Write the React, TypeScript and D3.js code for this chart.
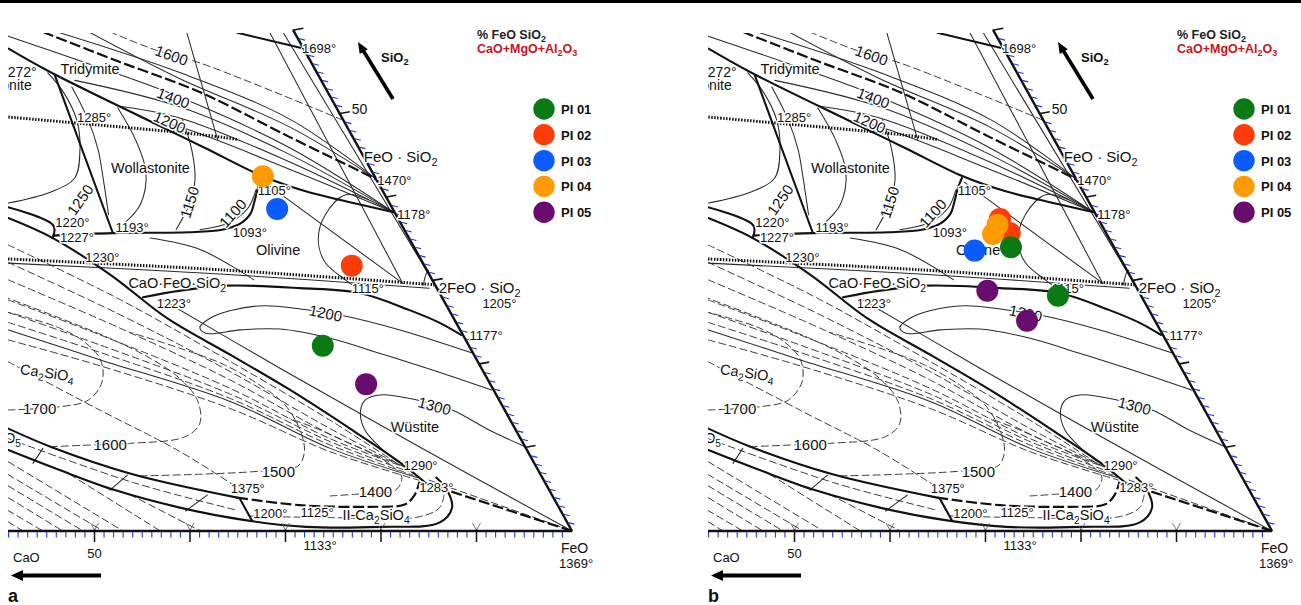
import React from 'react';
import * as d3 from 'd3';

type Comp = [number, number]; // [FeO wt%, SiO2 wt%]  (CaO = 100 - FeO - SiO2)

// ---------------- samples ----------------
const sampleNames = ['PI 01', 'PI 02', 'PI 03', 'PI 04', 'PI 05'];
const sampleColors = ['#0a7b14', '#fd3c07', '#0b5bff', '#fe9a03', '#6a0c6d'];
const panelASample = [0, 1, 2, 3, 4];
const panelAFeO = [62.5, 60.6, 49.3, 45.8, 69.4];
const panelASiO2 = [22.2, 31.8, 38.6, 42.5, 17.6];
const panelBSample = [1, 1, 3, 3, 0, 2, 4, 0, 4];
const panelBFeO = [52.3, 54.2, 52.4, 52.5, 55.2, 51.6, 55.4, 63.1, 61.4];
const panelBSiO2 = [37.4, 35.7, 36.7, 35.6, 34.0, 33.6, 28.8, 28.2, 25.2];

// ---------------- phase boundaries (thick solid) ----------------
const tridymiteBoundary: Comp[] = [[11.3, 57.8], [17.1, 55.0], [30.6, 49.1], [38.0, 45.9], [45.8, 42.5], [51.2, 40.7], [56.5, 39.4], [61.7, 38.2]];
const olivineWollBoundary: Comp[] = [[27.5, 35.4], [33.6, 35.7], [41.5, 35.8], [44.8, 36.1], [46.3, 36.8], [46.8, 38.0], [46.4, 39.7], [46.0, 41.1], [45.8, 42.3]];
const wollTridBoundary: Comp[] = [[17.8, 54.6], [33.5, 35.8]];
const topBoundary1698: Comp[] = [[34.3, 59.7], [41.8, 57.9]];
const cfsBoundary: Comp[] = [[40.7, 28.0], [44.2, 28.8], [48.8, 29.4], [56.6, 29.1], [63.2, 28.5], [69.3, 26.5], [73.2, 25.0], [76.3, 23.5]];
const wollLowerBoundary: Comp[] = [[21.0, 38.8], [26.9, 36.6], [27.6, 35.1]];
const ca2sio4Boundary: Comp[] = [[21.7, 37.5], [27.6, 35.1], [35.9, 30.7], [44.5, 25.5], [53.4, 21.1], [61.8, 16.9], [70.4, 12.3], [77.8, 8.2], [81.5, 5.9]];
const lowerBoundary1: Comp[] = [[34.6, 12.3], [40.2, 10.1], [50.5, 6.8], [62.9, 4.0]];
const lowerBoundary2: Comp[] = [[36.0, 9.7], [42.6, 7.3], [49.6, 4.9], [57.5, 2.8], [65.1, 1.3], [71.9, 0.5], [79.7, 0.5], [85.6, 1.0], [86.0, 2.8], [84.4, 4.9], [82.5, 6.4]];
const shortBoundary1375: Comp[] = [[63.3, 3.8], [65.9, 1.2]];
const solidBoundaries = [tridymiteBoundary, olivineWollBoundary, wollTridBoundary, topBoundary1698, cfsBoundary, wollLowerBoundary, ca2sio4Boundary, lowerBoundary1, lowerBoundary2, shortBoundary1375];

// ---------------- thick dashed boundaries ----------------
const liquidusDash1: Comp[] = [[13.9, 59.8], [23.8, 56.2], [34.0, 52.6], [46.2, 47.2], [56.6, 42.7], [57.9, 42.1]];
const liquidusDash2: Comp[] = [[62.9, 4.0], [69.9, 3.1], [77.4, 2.9], [80.9, 3.2], [81.3, 4.3], [81.0, 5.9]];
const liquidusDash3: Comp[] = [[81.5, 5.8], [100, 0]];
const dashedBoundaries = [liquidusDash1, liquidusDash2, liquidusDash3];

// ---------------- thin solid isotherms / lines ----------------
const thinSolid: Comp[][] = [
  [[15.7, 59.7], [30.8, 54.9], [45.2, 49.3], [57.8, 42.2]],
  [[18.9, 59.7], [31.1, 54.2], [45.6, 48.4], [57.8, 42.2]],
  [[10.5, 59.3], [22.1, 55.5], [32.2, 52.0], [46.9, 45.9], [61.7, 38.2]],
  [[20.2, 54.0], [32.9, 50.8], [47.3, 45.1], [61.7, 38.2]],
  [[26.5, 50.9], [33.5, 49.5], [47.8, 44.2], [61.7, 38.2]],
  [[30.6, 49.1], [34.1, 48.4], [48.3, 43.3], [61.7, 38.2]],
  [[42.5, 36.1], [45.2, 37.0], [46.2, 38.7], [45.9, 40.9]],
  [[20.8, 39.3], [24.5, 40.6], [26.2, 42.3], [25.0, 45.7], [22.8, 49.3], [19.5, 52.8], [16.9, 54.9]],
  [[20.3, 53.2], [24.0, 49.3], [26.9, 45.7], [29.3, 42.1], [32.0, 37.9]],
  [[26.4, 50.7], [30.2, 46.9], [33.3, 43.0], [34.7, 39.1], [34.1, 36.7]],
  [[33.9, 49.3], [36.7, 45.7], [38.9, 42.1], [39.8, 39.1], [40.0, 36.1]],
  [[29.0, 59.7], [38.8, 46.9]],
  [[37.7, 59.7], [67.0, 29.7]],
  [[39.1, 59.7], [70.4, 29.6]],
  [[46.3, 41.8], [67.0, 29.7]],
  [[58.3, 39.7], [55.6, 40.3], [54.7, 37.9], [55.5, 34.9], [57.6, 32.2], [60.8, 30.1], [62.5, 29.1]],
  [[69.5, 32.2], [68.9, 31.0], [69.3, 29.5]],
  [[24.4, 32.1], [47.3, 30.8], [70.1, 29.1]],
  [[37.8, 35.1], [43.8, 33.7], [51.2, 30.1]],
  [[78.7, 21.3], [69.6, 24.1], [62.8, 25.8], [57.9, 26.6], [53.9, 27.0], [50.6, 26.4], [49.0, 25.5], [48.5, 24.4], [49.5, 23.7], [52.9, 24.1], [57.0, 24.2], [62.8, 23.1], [68.9, 21.3], [75.1, 19.4], [82.9, 16.9]],
  [[89.9, 10.1], [85.1, 12.1], [80.0, 14.5], [75.7, 15.7], [71.5, 16.3], [70.3, 15.7], [70.5, 14.3], [72.1, 12.1], [74.8, 10.0], [77.5, 8.3]],
  [[42.5, 27.9], [59.4, 19.5], [73.4, 12.7], [85.7, 6.8], [100, 0]],
  [[28.6, 24.1], [40.1, 20.5], [56.3, 15.5], [69.6, 9.9], [80.5, 6.4]],
  [[39.5, 9.9], [39.4, 8.1]],
  [[50.0, 6.7], [49.1, 4.9]],
  [[59.6, 4.3], [58.3, 2.4]],
];

// ---------------- thin dashed isotherms ----------------
const thinDashed: Comp[][] = [
  [[20.9, 59.8], [26.9, 57.6], [32.2, 56.1], [50.8, 49.2]],
  [[23.3, 34.3], [38.5, 27.7], [53.8, 20.3], [67.8, 13.3], [77.9, 7.9]],
  [[24.4, 32.2], [39.4, 25.9], [54.4, 19.1], [68.3, 12.3], [78.2, 7.8]],
  [[25.5, 30.1], [40.2, 24.3], [54.9, 18.1], [68.7, 11.6], [78.5, 7.7]],
  [[26.7, 27.7], [38.5, 23.5], [55.4, 17.1], [68.9, 11.1], [78.7, 7.6]],
  [[27.5, 26.2], [39.1, 22.3], [55.8, 16.4], [69.2, 10.7], [79.3, 7.1]],
  [[28.1, 25.0], [39.6, 21.4], [56.0, 15.9], [69.4, 10.3], [79.9, 6.7]],
  [[29.2, 22.9], [40.4, 19.8], [56.6, 14.7], [69.8, 9.5], [80.8, 6.1]],
  [[30.5, 20.3], [43.1, 14.5], [54.1, 9.5], [62.3, 5.2]],
  [[33.5, 14.5], [38.8, 14.9], [41.3, 15.7], [41.6, 17.9], [40.1, 20.5], [37.4, 22.6], [33.9, 24.3], [30.1, 25.5], [27.5, 26.2]],
  [[40.2, 10.1], [44.2, 10.3], [48.3, 10.5], [53.7, 11.3], [54.4, 12.9], [52.7, 15.7], [49.5, 18.3], [45.2, 20.7], [39.7, 23.1], [33.3, 25.5], [26.6, 27.9]],
  [[51.4, 6.6], [57.5, 6.8], [63.9, 7.2], [67.3, 7.8], [67.1, 9.5], [65.3, 12.1], [62.2, 15.1], [58.3, 17.5], [53.4, 19.9], [47.7, 21.9], [41.5, 23.8]],
  [[72.5, 4.2], [75.0, 4.4], [79.0, 4.9], [78.9, 6.4], [77.6, 7.5], [74.7, 9.1], [71.3, 10.5], [67.4, 12.1], [63.5, 13.5]],
  [[65.4, 1.8], [73.9, 1.6], [83.1, 1.7], [84.7, 2.8], [84.4, 4.3]],
  [[35.2, 11.1], [51.1, 5.8], [63.6, 2.5]],
  [[81.9, 6.1], [100, 0]],
  [[36.7, 8.3], [53.0, 0]],
  [[37.4, 6.8], [50.9, 0]],
  [[38.2, 5.4], [48.8, 0]],
  [[38.9, 4.0], [46.7, 0]],
  [[39.6, 2.5], [44.6, 0]],
  [[40.4, 1.1], [42.5, 0]],
  [[43.9, 6.8], [56.9, 0]],
  [[51.4, 4.4], [61.1, 0]],
];

// ---------------- dotted conjugation lines ----------------
const dottedLines: Comp[][] = [
  [[15.5, 49.6], [36.7, 47.5], [41.0, 46.9]],
  [[24.2, 32.6], [47.1, 31.3], [70.5, 29.5]],
];

// ---------------- labels ----------------
const fieldLabels: [string, Comp][] = [
  ['Tridymite', [18.3, 54.8]], ['Wollastonite', [29.7, 42.9]], ['Olivine', [49.9, 33.1]],
  ['Wüstite', [74.9, 11.9]], ['CaO·FeO·SiO_2', [38.6, 29.1]], ['II-Ca_2SiO_4', [75.3, 1.3]],
];
const compoundLabels: [string, Comp][] = [['FeO · SiO_2', [55.5, 44.2]], ['2FeO · SiO_2', [71.4, 28.5]]];
const tempLabels: [string, Comp][] = [
  ['1698°', [42.3, 57.3]], ['1470°', [58.3, 41.5]], ['1178°', [62.5, 37.4]], ['1105°', [46.4, 40.3]],
  ['1093°', [46.4, 35.2]], ['1220°', [27.2, 36.4]], ['1227°', [28.6, 34.6]], ['1193°', [33.8, 35.8]],
  ['1230°', [32.5, 32.2]], ['1223°', [42.8, 26.7]], ['1285°', [23.0, 49.0]], ['1115°', [62.3, 28.5]],
  ['1205°', [76.9, 26.7]], ['1177°', [77.5, 22.9]], ['1375°', [61.9, 4.6]], ['1200°', [65.8, 1.6]],
  ['1125°', [70.7, 1.7]], ['1290°', [78.6, 7.3]], ['1283°', [81.6, 4.7]],
];
const edgeLabels: [string, Comp][] = [['1272°', [16.0, 54.4]], ['onite', [16.3, 52.8]], ['P_2O_5', [36.9, 10.5]]];
const isothermLabels: [string, Comp, number][] = [
  ['1600', [28.8, 57.0], 20], ['1400', [31.6, 51.9], 21], ['1200', [32.7, 49.0], 24], ['1250', [28.1, 39.7], -55],
  ['1150', [39.7, 39.4], -72], ['1100', [44.9, 38.1], -48], ['1200', [60.8, 26.1], 12], ['1300', [77.9, 15.0], 15],
  ['1700', [36.7, 14.7], 0], ['1600', [46.3, 10.4], 0], ['1500', [65.6, 7.1], 0], ['1400', [77.0, 4.7], 0],
];
const ca2sio4Label: [string, Comp] = ['Ca_2SiO_4', [32.5, 18.8]];
const axisTemp1133: [string, number] = ['1133°', 72.2];

// axis ticks
const minorTicks = d3.range(41, 100);
const majorTicks = [50, 60, 70, 80, 90];
const edgeMinor = d3.range(1, 60);
const edgeMajor = [10, 20, 30, 40, 50, 60];

// ---------------- scales ----------------
const W = 1301, H = 605;
const PLOT_LEFT = 8, PLOT_TOP = 33;
const feX = d3.scaleLinear().domain([0, 100]).range([-383, 572]);
const siX = d3.scaleLinear().domain([0, 100]).range([0, 490.6]);
const siY = d3.scaleLinear().domain([0, 100]).range([531, -303.5]);

const FONT = "'Liberation Sans', Arial, Helvetica, sans-serif";

function chem(s: string, sub = 3.5) {
  const parts = s.split(/_(\d)/);
  const out: React.ReactNode[] = [];
  let shifted = false;
  parts.forEach((p, i) => {
    if (i % 2 === 1) {
      out.push(<tspan key={i} dy={shifted ? 0 : sub} fontSize="0.72em">{p}</tspan>);
      shifted = true;
    } else if (p) {
      out.push(<tspan key={i} dy={shifted ? -sub : 0}>{p}</tspan>);
      shifted = false;
    }
  });
  return out;
}

const halo = { stroke: '#fff', strokeWidth: 3, paintOrder: 'stroke' as const, strokeLinejoin: 'round' as const };

function Panel({ dx, letter, sIdx, feo, sio2 }: { dx: number; letter: string; sIdx: number[]; feo: number[]; sio2: number[] }) {
  const P = (c: Comp): [number, number] => [feX(c[0]) + siX(c[1]) + dx, siY(c[1])];
  const gen = d3.line<Comp>().x(d => P(d)[0]).y(d => P(d)[1]).curve(d3.curveCatmullRom.alpha(0.5));
  const topS = siY.invert(PLOT_TOP);
  const vtx = P([100, 0]);
  const topEdge = P([100 - topS, topS]);
  const clipId = `clip-${letter}`;
  const lblClip = `lclip-${letter}`;
  const clipPts = [[PLOT_LEFT + dx, PLOT_TOP], [topEdge[0] + 2, PLOT_TOP], [vtx[0] + 3, vtx[1] + 2], [PLOT_LEFT + dx, vtx[1] + 2]];
  const edgeTop = P([40, 60]);
  const axisY = siY(0);
  const ink = '#111';
  const tickBlue = '#2438d6';

  return (
    <g>
      <defs>
        <clipPath id={clipId}><polygon points={clipPts.map(p => p.join(',')).join(' ')} /></clipPath>
        <clipPath id={lblClip}><rect x={PLOT_LEFT + dx} y={0} width={680} height={H} /></clipPath>
      </defs>
      <g clipPath={`url(#${clipId})`} fill="none" strokeLinecap="round">
        {thinDashed.map((c, i) => <path key={'d' + i} d={gen(c) || ''} stroke="#3c3c3c" strokeWidth={1} strokeDasharray="7 4" />)}
        {thinSolid.map((c, i) => <path key={'t' + i} d={gen(c) || ''} stroke="#2a2a2a" strokeWidth={1.05} />)}
        {dottedLines.map((c, i) => <path key={'o' + i} d={gen(c) || ''} stroke="#111" strokeWidth={3} strokeDasharray="1.5 1.5" strokeLinecap="butt" />)}
        {dashedBoundaries.map((c, i) => <path key={'k' + i} d={gen(c) || ''} stroke={ink} strokeWidth={2.2} strokeDasharray="11 3.5" strokeLinecap="butt" />)}
        {solidBoundaries.map((c, i) => <path key={'b' + i} d={gen(c) || ''} stroke={ink} strokeWidth={2.1} />)}
      </g>

      {/* axes */}
      <line x1={PLOT_LEFT + dx} y1={axisY} x2={vtx[0]} y2={vtx[1]} stroke={ink} strokeWidth={2.4} />
      <line x1={vtx[0]} y1={vtx[1]} x2={edgeTop[0]} y2={edgeTop[1]} stroke={ink} strokeWidth={2.4} />
      {minorTicks.filter(t => !majorTicks.includes(t)).map(t => {
        const [x] = P([t, 0]);
        return <line key={'mt' + t} x1={x} x2={x} y1={axisY + 1} y2={axisY + 6.5} stroke={tickBlue} strokeWidth={1.1} />;
      })}
      {majorTicks.map(t => {
        const [x] = P([t, 0]);
        return (
          <g key={'Mt' + t}>
            <line x1={x} x2={x} y1={axisY - 2} y2={axisY + 11} stroke={ink} strokeWidth={1.5} />
            <path d={`M${x - 4},${axisY - 8} L${x},${axisY - 1} L${x + 4},${axisY - 8}`} stroke="#555" strokeWidth={0.8} fill="none" />
          </g>
        );
      })}
      {edgeMinor.filter(t => !edgeMajor.includes(t)).map(t => {
        const [x, y] = P([100 - t, t]);
        return <line key={'em' + t} x1={x + 1} x2={x + 7} y1={y} y2={y + 1.5} stroke={tickBlue} strokeWidth={1.1} />;
      })}
      {edgeMajor.map(t => {
        const [x, y] = P([100 - t, t]);
        return <line key={'eM' + t} x1={x - 1} x2={x + 10} y1={y} y2={y - 2} stroke={ink} strokeWidth={1.6} />;
      })}

      {/* diagram labels */}
      <g clipPath={`url(#${lblClip})`} fontFamily={FONT} fill="#111">
        {fieldLabels.map(([t, c], i) => {
          const [x, y] = P(c);
          return <text key={'f' + i} x={x} y={y} fontSize={14.5} {...halo}>{chem(t)}</text>;
        })}
        {compoundLabels.map(([t, c], i) => {
          const [x, y] = P(c);
          return <text key={'c' + i} x={x} y={y} fontSize={15} {...halo}>{chem(t)}</text>;
        })}
        {tempLabels.map(([t, c], i) => {
          const [x, y] = P(c);
          return <text key={'tl' + i} x={x} y={y} fontSize={13} {...halo}>{t}</text>;
        })}
        {edgeLabels.map(([t, c], i) => {
          const [x, y] = P(c);
          return <text key={'el' + i} x={x} y={y} fontSize={14} textAnchor="end" {...halo}>{chem(t)}</text>;
        })}
        {isothermLabels.map(([t, c, a], i) => {
          const [x, y] = P(c);
          return <text key={'il' + i} transform={`translate(${x},${y}) rotate(${a})`} fontSize={15} textAnchor="middle" dominantBaseline="central" {...halo}>{t}</text>;
        })}
        {(() => {
          const [x, y] = P(ca2sio4Label[1]);
          return <text transform={`translate(${x},${y}) rotate(8)`} fontSize={14.5} {...halo}>{chem(ca2sio4Label[0])}</text>;
        })()}
        <text x={P([axisTemp1133[1], 0])[0] - 3} y={axisY + 19} fontSize={13}>{axisTemp1133[0]}</text>
        <text x={vtx[0] - 11} y={vtx[1] + 22} fontSize={14}>FeO</text>
        <text x={vtx[0] - 13} y={vtx[1] + 37} fontSize={13}>1369°</text>
        <text x={P([50, 0])[0]} y={axisY + 27} fontSize={13} textAnchor="middle">50</text>
        <text x={P([50, 50])[0] + 12} y={P([50, 50])[1]} fontSize={14}>50</text>
      </g>

      {/* sample points */}
      {sIdx.map((s, i) => {
        const [x, y] = P([feo[i], sio2[i]]);
        return <circle key={'p' + i} cx={x} cy={y} r={11} fill={sampleColors[s]} />;
      })}

      {/* legend */}
      <g fontFamily={FONT}>
        {sampleNames.map((n, i) => (
          <g key={n}>
            <circle cx={544 + dx} cy={109 + 25.8 * i} r={10.7} fill={sampleColors[i]} />
            <text x={561 + dx} y={114 + 25.8 * i} fontSize={13} fontWeight="bold" fill="#111">{n}</text>
          </g>
        ))}
        <text x={477 + dx} y={39} fontSize={12.5} fontWeight={600} fill="#222">{chem('% FeO SiO_2', 3)}</text>
        <text x={477 + dx} y={53} fontSize={12.5} fontWeight={600} fill="#c8141e">{chem('CaO+MgO+Al_2O_3', 3)}</text>
        <text x={381 + dx} y={62} fontSize={13} fontWeight={600} fill="#111">{chem('SiO_2', 3)}</text>
        <text x={13 + dx} y={562} fontSize={13} fill="#111">CaO</text>
        <text x={8 + dx} y={602} fontSize={18} fontWeight="bold" fill="#111">{letter}</text>
      </g>
      {/* arrows */}
      <line x1={393 + dx} y1={99} x2={363.5 + dx} y2={51} stroke="#000" strokeWidth={3.6} />
      <polygon points={`${358 + dx},42 ${367.8 + dx},49.2 ${359.7 + dx},54.1`} fill="#000" />
      <line x1={101 + dx} y1={575.5} x2={22 + dx} y2={575.5} stroke="#000" strokeWidth={4} />
      <polygon points={`${11 + dx},575.5 ${23 + dx},570 ${23 + dx},581`} fill="#000" />
    </g>
  );
}

export default function App() {
  return (
    <svg width={W} height={H} viewBox={`0 0 ${W} ${H}`} style={{ position: 'absolute', left: 0, top: 0, display: 'block', background: '#fff' }}>
      <rect width={W} height={H} fill="#fff" />
      <line x1={0} x2={W} y1={1.5} y2={1.5} stroke="#000" strokeWidth={3} />
      <Panel dx={0} letter="a" sIdx={panelASample} feo={panelAFeO} sio2={panelASiO2} />
      <Panel dx={700} letter="b" sIdx={panelBSample} feo={panelBFeO} sio2={panelBSiO2} />
    </svg>
  );
}
